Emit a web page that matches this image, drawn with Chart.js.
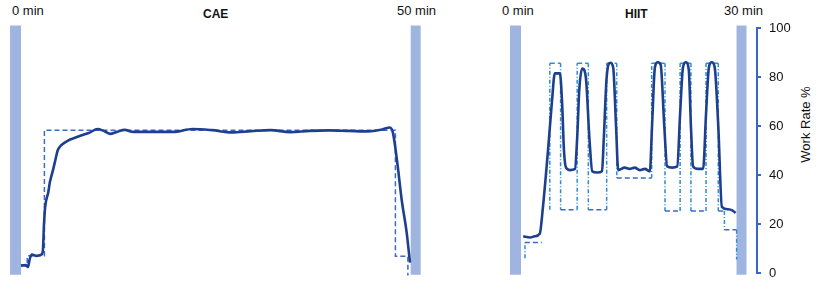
<!DOCTYPE html>
<html lang="en">
<head>
<meta charset="UTF-8">
<title>CAE vs HIIT work rate</title>
<style>
  html, body { margin: 0; padding: 0; background: #fff; }
  body { position: relative; width: 821px; height: 289px; overflow: hidden;
         font-family: "Liberation Sans", Arial, sans-serif; color: #111; }
  canvas { position: absolute; top: 0; }
  #cae { left: 0; }
  #hiit { left: 490px; }
  .lbl { position: absolute; font-size: 13px; line-height: 13px; white-space: nowrap; }
  .ttl { position: absolute; font-size: 12px; line-height: 12px; font-weight: bold; white-space: nowrap; }
  .ytitle { position: absolute; left: 765px; top: 118px; width: 80px; font-size: 13px; line-height: 13px;
            text-align: center; white-space: nowrap; transform: rotate(-90deg); }
</style>
</head>
<body>
  <div class="lbl" style="left:12px; top:4px;">0 min</div>
  <div class="ttl" style="left:203px; top:8px;">CAE</div>
  <div class="lbl" style="left:397px; top:4px;">50 min</div>
  <div class="lbl" style="left:502px; top:4px;">0 min</div>
  <div class="ttl" style="left:625px; top:8px;">HIIT</div>
  <div class="lbl" style="left:724px; top:4px;">30 min</div>
  <div class="ytitle">Work Rate %</div>

  <canvas id="cae" width="440" height="289"></canvas>
  <canvas id="hiit" width="331" height="289"></canvas>

  <script src="https://cdn.jsdelivr.net/npm/chart.js"></script>
  <script>
    // CAE: measured work rate (solid) and prescribed target (dashed), minutes vs %
    const caeTime = [0, 0.6, 0.9, 1.1, 1.4, 2.0, 2.6, 2.8, 2.95, 3.1, 3.5, 3.7, 4.1, 4.4, 4.7, 5.1, 5.5, 6.3, 7.0, 7.6,
                     8.8, 9.8, 10.6, 11.4, 12.3, 13.3, 14.4, 16.5, 19.5, 22.0, 24.5, 27.0, 29.5, 32.0, 34.5, 37.0,
                     39.5, 42.0, 44.5, 46.3, 47.3, 47.7, 48.3, 48.8, 49.45, 49.87];
    const caeRate = [3, 3.2, 2.5, 5.5, 7.5, 7.0, 7.5, 9, 20, 27, 33, 37, 42, 46, 50, 52, 53, 54.5, 55.3, 56,
                     57.3, 58.8, 58.0, 56.8, 57.6, 58.4, 57.6, 57.6, 57.6, 58.8, 58.3, 57.4, 57.9, 58.3, 57.5, 58.0,
                     58.2, 58.0, 57.8, 58.6, 59.4, 57, 43.5, 30, 16.4, 4.2];
    const caeTargetTime = [0, 0.8, 0.8, 3.0, 3.0, 48.0, 48.0, 49.6, 49.6];
    const caeTargetRate = [3.4, 3.4, 7, 7, 58.3, 58.3, 6.8, 6.8, -1];

    // HIIT
    const hiitTime = [0.3, 1.25, 1.9, 2.6, 3.05, 3.75, 4.3, 4.7, 5.4, 5.7, 5.97, 6.25, 6.8, 7.5, 7.8, 8.1, 8.5, 9.0,
                      9.5, 9.9, 10.6, 11.25, 11.5, 11.9, 12.4, 12.8, 13.2, 13.5, 14.4, 15.1, 15.8, 16.5, 17.2, 17.9,
                      18.2, 18.6, 19.0, 19.4, 19.9, 20.3, 21.0, 21.7, 22.1, 22.5, 22.9, 23.3, 23.6, 23.9, 24.6, 25.3,
                      25.7, 26.1, 26.5, 26.9, 27.4, 27.9, 28.75, 29.4, 29.8];
    const hiitRate = [15, 14.5, 15, 16, 27, 50, 70, 81.5, 81.5, 70, 50, 43, 42, 42.5, 55, 75, 83.5, 80,
                      55, 41.5, 41, 41.5, 55, 80, 85.8, 84, 60, 42, 43, 42.5, 43, 42, 42.5, 41.5,
                      60, 84, 86, 85, 60, 43.5, 43, 43.5, 65, 84, 86, 83, 60, 43.5, 42.5, 42.5,
                      65, 84, 86, 84, 60, 27, 26, 25.5, 24.5];
    const hiitTargetTime = [0.55, 0.55, 2.9, 2.9, 4.0, 4.0, 5.5, 5.5, 7.8, 7.8, 9.35, 9.35, 11.9, 11.9, 13.3, 13.3,
                            18.15, 18.15, 20.0, 20.0, 22.1, 22.1, 23.6, 23.6, 25.7, 25.7, 27.4, 27.4, 28.25, 28.25,
                            29.95, 29.95];
    const hiitTargetRate = [6, 12.4, 12.4, null, 25.8, 85.6, 85.6, 25.8, 25.8, 85.6, 85.6, 25.8, 25.8, 85.6, 85.6, 38.8,
                            38.8, 85.6, 85.6, 25.3, 25.3, 85.6, 85.6, 25.3, 25.3, 85.6, 85.6, 25.3, 25.3, 17.7,
                            17.7, 5.5];

    // start / end markers (minutes) and their vertical span
    const caeMarkers = [-0.7, 50.6];
    const hiitMarkers = [-0.76, 30.63];
    const markerSpan = [-0.7, 101];
    const yTicks = [0, 20, 40, 60, 80, 100];

    const navy = '#1e3f8e';
    const dashBlue = '#3a6bc6';
    const lightBlue = '#2d8dd6';
    const markerBlue = '#9fb5e0';
    const axisBlue = '#3a66c8';

    Chart.defaults.font.family = '"Liberation Sans", Arial, sans-serif';

    const pts = (xs, ys) => xs.map((x, i) => ({ x: x, y: ys[i] }));

    function markerSets(markers) {
      return markers.map((m, i) => ({
        data: [{ x: m, y: markerSpan[0] }, { x: m, y: markerSpan[1] }],
        borderColor: markerBlue,
        borderWidth: i === 0 ? 11 : 10,
        borderCapStyle: 'butt',
        pointRadius: 0,
        clip: false
      }));
    }

    const solidStyle = { borderColor: navy, borderWidth: 2.6, pointRadius: 0, cubicInterpolationMode: 'monotone', clip: false };

    // CAE chart
    new Chart(document.getElementById('cae'), {
      type: 'line',
      data: {
        datasets: [
          Object.assign({ data: pts(caeTime, caeRate) }, solidStyle),
          { data: pts(caeTargetTime, caeTargetRate), borderColor: dashBlue, borderWidth: 1.5,
            borderDash: [5, 3], pointRadius: 0, clip: false },
          ...markerSets(caeMarkers)
        ]
      },
      options: {
        responsive: false,
        animation: false,
        layout: { padding: { top: 28, bottom: 16, left: 0, right: 0 } },
        plugins: { legend: { display: false }, tooltip: { enabled: false } },
        scales: {
          x: { type: 'linear', min: -2.692, max: 53.718, display: false },
          y: { min: 0, max: 100, display: false }
        }
      }
    });

    // HIIT chart with the Work Rate axis on the right
    new Chart(document.getElementById('hiit'), {
      type: 'line',
      data: {
        datasets: [
          Object.assign({ data: pts(hiitTime, hiitRate) }, solidStyle),
          { data: pts(hiitTargetTime, hiitTargetRate), borderColor: dashBlue, borderWidth: 1.5,
            borderDash: [5, 3], pointRadius: 0, spanGaps: false, clip: false,
            segment: {
              borderColor: ctx => (ctx.p0.parsed.x === ctx.p1.parsed.x || ctx.p0.parsed.y > 80) ? lightBlue : dashBlue,
              borderDash: ctx => ctx.p0.parsed.x === ctx.p1.parsed.x ? [4, 2, 1, 2] : [5, 3]
            } },
          ...markerSets(hiitMarkers)
        ]
      },
      options: {
        responsive: false,
        animation: false,
        layout: { padding: { top: 28, bottom: 16, left: 0, right: 0 } },
        plugins: { legend: { display: false }, tooltip: { enabled: false } },
        scales: {
          x: { type: 'linear', min: -4.306, max: 32.778, display: false },
          y: {
            position: 'right',
            min: 0,
            max: 100,
            afterBuildTicks: s => { s.ticks = yTicks.map(v => ({ value: v })); },
            afterFit: s => { s.width = 64; },
            border: { display: true, color: axisBlue, width: 2 },
            grid: { drawOnChartArea: false, color: axisBlue, lineWidth: 2, tickLength: 4 },
            ticks: { color: '#111', padding: 8, font: { size: 13 } }
          }
        }
      }
    });
  </script>
</body>
</html>
